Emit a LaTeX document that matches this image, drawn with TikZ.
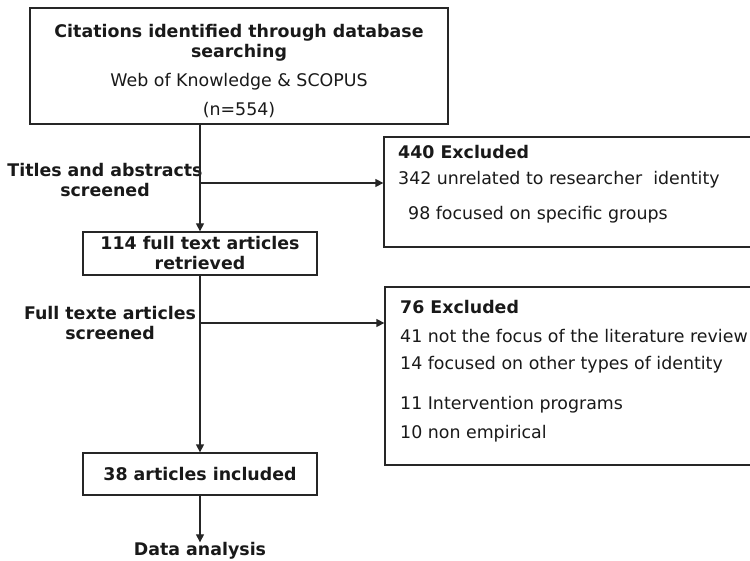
\documentclass[tikz,border=0pt]{standalone}
\usepackage{fontspec}
\setmainfont{DejaVu Sans}
\usetikzlibrary{arrows.meta}
\tikzset{
  boxstyle/.style={draw=black!85, line width=1.3pt, inner sep=0pt},
  txt/.style={inner sep=0pt, font=\fontsize{17.4}{20}\selectfont, text=black!90},
  btxt/.style={txt, font=\fontsize{17.4}{20}\selectfont\bfseries},
  conn/.style={draw=black!85, line width=1.3pt, -{Triangle[length=8pt,width=8pt]}},
}
\begin{document}
\begin{tikzpicture}[x=1pt,y=-1pt]
\useasboundingbox (0,0) rectangle (750,561);
\clip (0,0) rectangle (750,561);
% boxes
\node[boxstyle, minimum width=418pt, minimum height=116pt] (top) at (239,66) {};
\node[boxstyle, minimum width=234pt, minimum height=43pt] (ret) at (200,253.5) {};
\node[boxstyle, minimum width=234pt, minimum height=42pt] (inc) at (200,474) {};
\node[boxstyle, minimum width=400pt, minimum height=110pt] (ex1) at (584,192) {};
\node[boxstyle, minimum width=400pt, minimum height=178pt] (ex2) at (585,376) {};
% top box text
\node[btxt] (t1) at (239,33) {Citations identified through database};
\node[btxt] (t2) at (239,53) {searching};
\node[txt] (t3) at (239,82) {Web of Knowledge \& SCOPUS};
\node[txt] (t4) at (239,110) {(n=554)};
% retrieved
\node[btxt] (r1) at (200,243) {114 full text articles};
\node[btxt] (r2) at (200,263) {retrieved};
% included
\node[btxt] (i1) at (200,474) {38 articles included};
% side labels
\node[btxt] (s1) at (105,170) {Titles and abstracts};
\node[btxt] (s2) at (105,190) {screened};
\node[btxt] (s3) at (110,313) {Full texte articles};
\node[btxt] (s4) at (110,333) {screened};
% excluded 1
\node[btxt, anchor=west] (e11) at (398,152) {440 Excluded};
\node[txt, anchor=west] (e12) at (398,180) {342 unrelated to researcher\ \ identity};
\node[txt, anchor=west] (e13) at (408,215) {98 focused on specific groups};
% excluded 2
\node[btxt, anchor=west] (e21) at (400,307) {76 Excluded};
\node[txt, anchor=west] (e22) at (400,336) {41 not the focus of the literature review};
\node[txt, anchor=west] (e23) at (400,365) {14 focused on other types of identity};
\node[txt, anchor=west] (e24) at (400,405) {11 Intervention programs};
\node[txt, anchor=west] (e25) at (400,434) {10 non empirical};
% data analysis
\node[btxt] (da) at (200,551) {Data analysis};
% connectors
\coordinate (j1) at (200,183);
\coordinate (j2) at (200,323);
\draw[conn] (top.south -| ret.north) -- (ret.north);
\draw[conn] (j1) -- (j1 -| ex1.west);
\draw[conn] (ret.south) -- (inc.north);
\draw[conn] (j2) -- (j2 -| ex2.west);
\draw[conn] (inc.south) -- (da.north);
\end{tikzpicture}
\end{document}
